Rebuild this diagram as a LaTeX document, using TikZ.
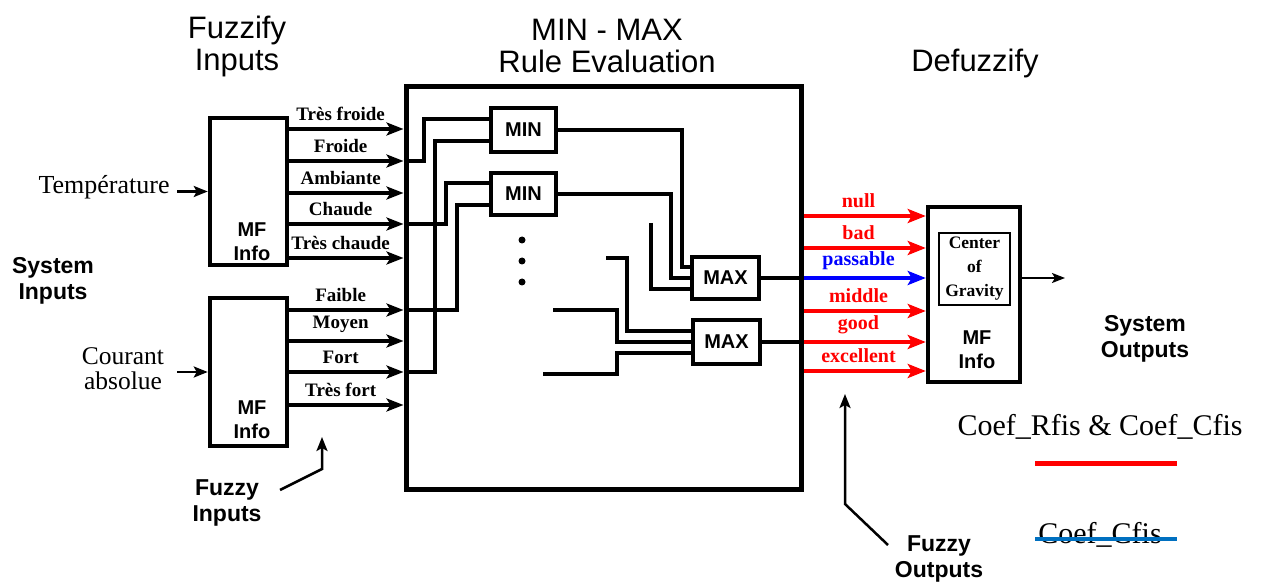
\documentclass[tikz,border=0pt]{standalone}
\usepackage{fontspec}
\setmainfont{Liberation Serif}
\newfontfamily\hv{Liberation Sans}
\usetikzlibrary{arrows.meta}
\definecolor{lgblue}{RGB}{0,112,192}
\begin{document}
\begin{tikzpicture}[x=1pt,y=-1pt,
  every node/.style={inner sep=0pt},
  bigbox/.style={draw,line width=5pt},
  mfbox/.style={draw,line width=4.5pt},
  gate/.style={draw,line width=3.5pt,font=\hv\bfseries\fontsize{20}{22}\selectfont},
  inarr/.style={line width=4pt,-{Stealth[length=17pt,width=13pt,inset=4pt]}},
  wire/.style={line width=4pt},
  outarr/.style={line width=4.5pt,-{Stealth[length=18pt,width=14pt,inset=4pt]}},
  thinarr/.style={line width=2.5pt,-{Stealth[length=14pt,width=11pt,inset=3pt]}},
  lbl/.style={font=\bfseries\fontsize{19}{21}\selectfont, above=6pt, pos=0.45},
  rlbl/.style={font=\bfseries\fontsize{20}{22}\selectfont, above=6pt, pos=0.45},
  title/.style={font=\hv\fontsize{31}{32}\selectfont, align=center},
  bsans/.style={font=\hv\bfseries\fontsize{23}{26}\selectfont, align=center},
  mftext/.style={font=\hv\bfseries\fontsize{20}{24}\selectfont, align=center},
  dot/.style={circle,fill,minimum size=7pt}
]
\useasboundingbox (0,0) rectangle (1263,585);

% titles
\node[title] (t1) at (237,46) {Fuzzify\\Inputs};
\node[title] (t2) at (607,46) {MIN - MAX\\Rule Evaluation};
\node[title] (t3) at (975,63) {Defuzzify};

% main boxes
\node[bigbox,minimum width=395pt,minimum height=403pt] (rb) at (603.5,288) {};
\node[mfbox,minimum width=77pt,minimum height=147pt] (mf1) at (248.5,191.5) {};
\node[mfbox,minimum width=77pt,minimum height=148pt] (mf2) at (248.5,372) {};
\node[mfbox,minimum width=92pt,minimum height=175pt] (mf3) at (974,294.5) {};
\node[draw,line width=1.5pt,minimum width=71pt,minimum height=72pt,
      font=\bfseries\fontsize{17.5}{24}\selectfont,align=center] (cog) at (974.5,269) {Center\\of\\Gravity};

\node[mftext] (mf1t) at (252,241.5) {MF\\Info};
\node[mftext] (mf2t) at (252,420) {MF\\Info};
\node[mftext] (mf3t) at (977,349.5) {MF\\Info};

% gates
\node[gate,minimum width=65pt,minimum height=44pt] (min1) at (523.5,130) {MIN};
\node[gate,minimum width=65pt,minimum height=42pt] (min2) at (523.5,194) {MIN};
\node[gate,minimum width=67pt,minimum height=42pt] (max1) at (725.5,278) {MAX};
\node[gate,minimum width=67pt,minimum height=44pt] (max2) at (726.5,342) {MAX};

\node[dot] (d1) at (522,240) {};
\node[dot] (d2) at (522,261) {};
\node[dot] (d3) at (522,282) {};

% system inputs
\node[font=\fontsize{26}{28}\selectfont] (temp) at (104,187) {Température};
\node[font=\fontsize{25.5}{25}\selectfont,align=center] (cour) at (123,369) {Courant\\absolue};
\coordinate (tin) at (177,0);
\draw[thinarr] (tin |- mf1.west) -- (mf1.west);
\draw[thinarr] (tin |- mf2.west) -- (mf2.west);
\node[bsans] (si) at (53,281) {System\\Inputs};

% fuzzy input arrows
\foreach \n/\t/\yy in {tf/Très froide/129, f/Froide/161, a/Ambiante/193, c/Chaude/224, tc/Très chaude/258}{
  \coordinate (y\n) at (0,\yy);
  \draw[inarr] (mf1.east |- y\n) -- node[lbl]{\t} (rb.west |- y\n);
}
\foreach \n/\t/\yy in {fa/Faible/310, m/Moyen/341, fo/Fort/372, tfo/Très fort/405}{
  \coordinate (y\n) at (0,\yy);
  \draw[inarr] (mf2.east |- y\n) -- node[lbl]{\t} (rb.west |- y\n);
}

% wiring to MIN gates
\draw[wire] (rb.west |- yf) -| ([xshift=-65pt,yshift=11pt]min1.west) -- ([yshift=11pt]min1.west);
\draw[wire] (rb.west |- yfo) -| ([xshift=-54pt,yshift=-11pt]min1.west) -- ([yshift=-11pt]min1.west);
\draw[wire] (rb.west |- yc) -| ([xshift=-43pt,yshift=11pt]min2.west) -- ([yshift=11pt]min2.west);
\draw[wire] (rb.west |- yfa) -| ([xshift=-32pt,yshift=-11pt]min2.west) -- ([yshift=-11pt]min2.west);

% wiring to MAX gates
\draw[wire] (min1.east) -| ([xshift=-8pt,yshift=11pt]max1.west) -- ([yshift=11pt]max1.west);
\draw[wire] (min2.east) -| ([xshift=-19pt]max1.west) -- (max1.west);
\coordinate (c7) at (651,223);
\draw[wire] (c7) |- ([yshift=-11pt]max1.west);
\coordinate (c8) at (606,258);
\draw[wire] (c8) -| ([xshift=-64pt,yshift=11pt]max2.west) -- ([yshift=11pt]max2.west);
\coordinate (c9) at (553,310);
\draw[wire] (c9) -| ([xshift=-74pt]max2.west) -- (max2.west);
\coordinate (c10) at (543,374);
\draw[wire] (c10) -| ([xshift=-74pt,yshift=-11pt]max2.west) -- ([yshift=-11pt]max2.west);
\draw[wire] (max1.east) -- (rb.east |- max1.east);
\draw[wire] (max2.east) -- (rb.east |- max2.east);

% fuzzy outputs
\foreach \n/\yy/\c in {null/216/red, bad/248/red, passable/278/blue, middle/311/red, good/342/red, excellent/371/red}{
  \coordinate (o\n) at (0,\yy);
  \draw[outarr,\c] (rb.east |- o\n) -- node[rlbl,text=\c]{\n} (mf3.west |- o\n);
}
\coordinate (sysout) at (1065,278);
\draw[line width=2pt,-{Stealth[length=13pt,width=10pt,inset=3pt]}] (mf3.east |- sysout) -- (sysout);
\node[bsans] (so) at (1145,339) {System\\Outputs};

% annotations
\node[bsans] (fi) at (227,503) {Fuzzy\\Inputs};
\coordinate (fis) at (280,490);
\coordinate (fia) at (322,437);
\draw[thinarr] (fis) -- (322,469) -- (fia);
\node[bsans] (fo) at (939,559) {Fuzzy\\Outputs};
\coordinate (fos) at (888,545);
\coordinate (foa) at (845,394);
\draw[thinarr] (fos) -- (845,504) -- (foa);

% legend
\node[font=\fontsize{30}{32}\selectfont] (leg1) at (1100,427) {Coef\_Rfis \& Coef\_Cfis};
\coordinate (r1) at (1035,463);
\coordinate (r2) at (1177,463);
\draw[red,line width=5pt] (r1) -- (r2);
\node[font=\fontsize{30}{32}\selectfont] (leg2) at (1100,535) {Coef\_Cfis};
\coordinate (b1) at (1035,539);
\coordinate (b2) at (1177,539);
\draw[lgblue,line width=4.5pt] (b1) -- (b2);
\end{tikzpicture}
\end{document}
